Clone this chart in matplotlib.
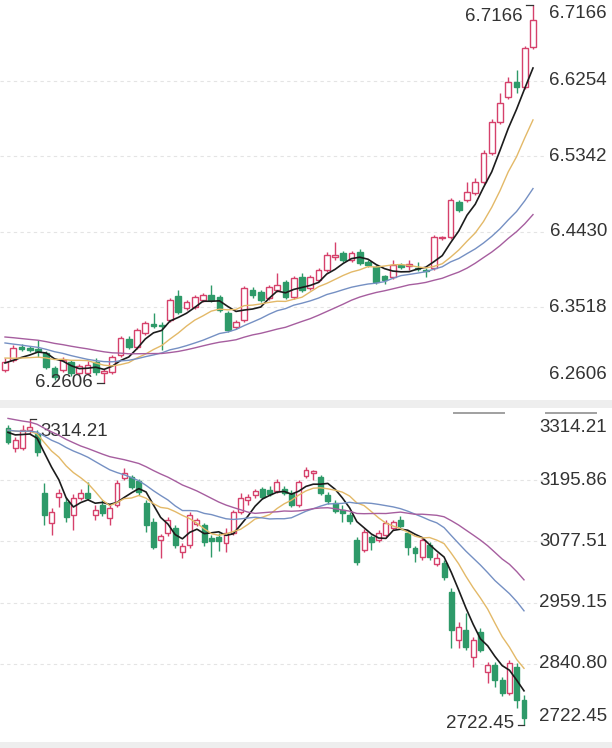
import numpy as np
import pandas as pd
import matplotlib
matplotlib.use("Agg")
from matplotlib import pyplot as plt
from matplotlib.patches import Rectangle
from matplotlib.lines import Line2D
from matplotlib.transforms import blended_transform_factory

plt.rcParams["font.family"] = ["Liberation Sans", "DejaVu Sans"]

# ---- top panel: exchange rate candles ----
fx_open = [6.2763, 6.2883, 6.3040, 6.3028, 6.3016, 6.2968, 6.2787, 6.2763, 6.2859, 6.2726,
           6.2726, 6.2859, 6.2726, 6.2739, 6.2944, 6.3137, 6.3040, 6.3209, 6.3318, 6.3306,
           6.3366, 6.3655, 6.3511, 6.3523, 6.3607, 6.3667, 6.3643, 6.3450, 6.3281, 6.3366,
           6.3728, 6.3704, 6.3631, 6.3728, 6.3824, 6.3643, 6.3885, 6.3752, 6.3848, 6.3969,
           6.4126, 6.4174, 6.4090, 6.4186, 6.4065, 6.4005, 6.3897, 6.3885, 6.4029, 6.4017,
           6.3993, 6.3969, 6.3993, 6.4355, 6.4367, 6.4789, 6.4813, 6.4898, 6.5031, 6.5380,
           6.5754, 6.6056, 6.6237, 6.6177, 6.6659]
fx_close = [6.2859, 6.3028, 6.3016, 6.3004, 6.2992, 6.2799, 6.2678, 6.2883, 6.2726, 6.2811,
            6.2823, 6.2739, 6.2751, 6.2920, 6.3149, 6.3040, 6.3245, 6.3330, 6.3293, 6.3293,
            6.3607, 6.3462, 6.3583, 6.3643, 6.3667, 6.3607, 6.3486, 6.3245, 6.3342, 6.3752,
            6.3667, 6.3607, 6.3764, 6.3788, 6.3643, 6.3872, 6.3728, 6.3885, 6.3969, 6.4150,
            6.4150, 6.4090, 6.4174, 6.4053, 6.4029, 6.3824, 6.3848, 6.4029, 6.4005, 6.4041,
            6.3981, 6.3957, 6.4367, 6.4367, 6.4813, 6.4693, 6.4910, 6.5031, 6.5380, 6.5754,
            6.5984, 6.6237, 6.6177, 6.6647, 6.6985]
fx_high = [6.2907, 6.3064, 6.3076, 6.3052, 6.3125, 6.2992, 6.2811, 6.2920, 6.2883, 6.2835,
           6.2871, 6.2907, 6.2775, 6.2944, 6.3173, 6.3173, 6.3269, 6.3354, 6.3450, 6.3342,
           6.3631, 6.3728, 6.3607, 6.3667, 6.3692, 6.3788, 6.3667, 6.3474, 6.3366, 6.3776,
           6.3764, 6.3728, 6.3788, 6.3933, 6.3848, 6.3897, 6.3933, 6.3909, 6.3993, 6.4186,
           6.4307, 6.4198, 6.4198, 6.4222, 6.4090, 6.4029, 6.3909, 6.4090, 6.4053, 6.4090,
           6.4065, 6.3993, 6.4391, 6.4379, 6.4838, 6.4813, 6.5031, 6.5079, 6.5417, 6.5791,
           6.6104, 6.6297, 6.6382, 6.6671, 6.7166]
fx_low = [6.2739, 6.2859, 6.2992, 6.2980, 6.2920, 6.2775, 6.2642, 6.2739, 6.2690, 6.2702,
          6.2702, 6.2702, 6.2606, 6.2714, 6.2920, 6.3016, 6.3016, 6.3185, 6.3269, 6.3004,
          6.3342, 6.3438, 6.3486, 6.3499, 6.3583, 6.3583, 6.3462, 6.3221, 6.3257, 6.3342,
          6.3631, 6.3583, 6.3607, 6.3704, 6.3619, 6.3619, 6.3704, 6.3728, 6.3824, 6.3945,
          6.4090, 6.4065, 6.4065, 6.4029, 6.4005, 6.3800, 6.3800, 6.3860, 6.3981, 6.3969,
          6.3957, 6.3885, 6.3969, 6.4331, 6.4343, 6.4669, 6.4789, 6.4874, 6.5006, 6.5356,
          6.5730, 6.6032, 6.6104, 6.6152, 6.6635]
# closes before the visible window, only used to warm up the moving averages
fx_prior = [6.3290, 6.3330, 6.3310, 6.3280, 6.3320, 6.3300, 6.3340, 6.3290, 6.3310, 6.3280,
            6.3300, 6.3260, 6.3290, 6.3250, 6.3280, 6.3240, 6.3290, 6.3260, 6.3270, 6.3270,
            6.3050, 6.2990, 6.2960, 6.2930, 6.2900,
            6.2870, 6.2840, 6.2860, 6.2810]

# ---- bottom panel: index candles ----
idx_open = [3296.81, 3258.13, 3258.13, 3292.94, 3285.20, 3171.10, 3113.08, 3163.36, 3153.69, 3128.55,
            3161.43, 3171.10, 3128.55, 3147.89, 3122.75, 3147.89, 3200.11, 3202.04, 3194.31, 3151.76,
            3115.01, 3080.20, 3093.74, 3103.41, 3056.99, 3070.53, 3111.14, 3109.21, 3084.07, 3086.00,
            3074.40, 3093.74, 3134.35, 3157.56, 3167.23, 3178.83, 3176.90, 3174.97, 3178.83, 3171.10,
            3147.89, 3203.98, 3209.78, 3202.04, 3167.23, 3151.76, 3138.22, 3128.55, 3080.20, 3060.86,
            3086.00, 3080.20, 3089.87, 3103.41, 3118.88, 3093.74, 3064.73, 3047.32, 3070.53, 3033.78,
            3035.72, 2979.63, 2886.80, 2906.14, 2853.92, 2902.27, 2824.91, 2838.45, 2809.44, 2784.30,
            2834.58, 2770.76]
idx_close = [3269.73, 3273.60, 3292.94, 3298.74, 3250.39, 3128.55, 3134.35, 3171.10, 3124.68, 3161.43,
             3171.10, 3161.43, 3138.22, 3132.42, 3142.09, 3190.44, 3209.78, 3182.70, 3173.03, 3109.21,
             3066.66, 3087.94, 3118.88, 3070.53, 3068.60, 3128.55, 3118.88, 3076.33, 3078.27, 3078.27,
             3093.74, 3134.35, 3161.43, 3163.36, 3174.97, 3163.36, 3169.16, 3192.37, 3171.10, 3147.89,
             3192.37, 3215.58, 3213.65, 3171.10, 3155.63, 3136.29, 3132.42, 3116.95, 3037.65, 3095.67,
             3076.33, 3093.74, 3113.08, 3115.01, 3107.28, 3066.66, 3055.06, 3080.20, 3047.32, 3045.39,
             3008.64, 2906.14, 2911.94, 2873.26, 2886.80, 2867.46, 2838.45, 2809.44, 2784.30, 2842.32,
             2770.76, 2735.95]
idx_high = [3302.61, 3279.40, 3302.61, 3314.21, 3292.94, 3190.44, 3142.09, 3178.83, 3163.36, 3169.16,
            3178.83, 3192.37, 3147.89, 3157.56, 3147.89, 3196.24, 3219.45, 3205.91, 3198.17, 3157.56,
            3122.75, 3091.80, 3124.68, 3109.21, 3074.40, 3134.35, 3122.75, 3113.08, 3089.87, 3093.74,
            3103.41, 3138.22, 3171.10, 3169.16, 3178.83, 3182.70, 3184.64, 3198.17, 3184.64, 3176.90,
            3196.24, 3221.38, 3215.58, 3205.91, 3173.03, 3157.56, 3147.89, 3134.35, 3086.00, 3101.47,
            3089.87, 3099.54, 3118.88, 3118.88, 3126.62, 3099.54, 3068.60, 3086.00, 3076.33, 3055.06,
            3041.52, 2987.37, 2921.61, 2939.02, 2892.60, 2910.01, 2844.25, 2844.25, 2815.24, 2848.12,
            2842.32, 2780.43]
idx_low = [3265.86, 3250.39, 3254.26, 3285.20, 3242.66, 3109.21, 3089.87, 3144.02, 3115.01, 3099.54,
           3157.56, 3157.56, 3118.88, 3126.62, 3109.21, 3144.02, 3196.24, 3178.83, 3167.23, 3095.67,
           3062.79, 3045.39, 3087.94, 3064.73, 3045.39, 3064.73, 3107.28, 3068.60, 3047.32, 3058.93,
           3056.99, 3089.87, 3130.48, 3147.89, 3161.43, 3159.49, 3165.30, 3171.10, 3167.23, 3144.02,
           3144.02, 3200.11, 3196.24, 3167.23, 3149.82, 3132.42, 3115.01, 3111.14, 3031.85, 3056.99,
           3060.86, 3076.33, 3086.00, 3099.54, 3103.41, 3051.19, 3037.65, 3041.52, 3041.52, 3029.92,
           3002.84, 2871.33, 2871.33, 2867.46, 2834.58, 2863.59, 2803.64, 2795.90, 2778.50, 2780.43,
           2755.29, 2722.45]
idx_prior = [3352, 3368, 3361, 3375, 3358, 3349, 3366, 3362, 3355, 3360,
             3310, 3301, 3295, 3288, 3280, 3297, 3290, 3285, 3298, 3285,
             3290, 3302, 3295, 3300, 3297,
             3298, 3289, 3294, 3291]

MA_WINDOWS = [5, 10, 20, 30]
MA_COLORS = ["#1c1c1c", "#e3b968", "#7590c3", "#a65e9f"]
MA_WIDTHS = [1.2, 1.0, 1.0, 1.0]
UP = "#d6416b"
DOWN = "#2e9a69"
TEXT = "#333333"

W, H = 612, 748
PLOT_RIGHT = 545
LABEL_X = 607


def px_box(left, top, right, bottom):
    return [left / W, 1 - bottom / H, (right - left) / W, (bottom - top) / H]


def moving_averages(prior, close):
    s = pd.Series(list(prior) + list(close))
    n = len(close)
    return [s.rolling(w).mean().to_numpy()[-n:] for w in MA_WINDOWS]


def draw_candles(ax, o, h, l, c, width):
    for i in range(len(o)):
        up = c[i] >= o[i]
        color = UP if up else DOWN
        ax.plot([i, i], [l[i], h[i]], color=color, lw=1.0, zorder=2,
                solid_capstyle="butt")
        b0, b1 = min(o[i], c[i]), max(o[i], c[i])
        ax.add_patch(Rectangle((i - width / 2, b0), width, b1 - b0,
                               facecolor="white" if up else color,
                               edgecolor=color, lw=1.0, zorder=3))


def setup_panel(ax, n, lo, hi, box, x_first, x_last, y_hi, y_lo):
    # map the data onto the pixel layout of the reference
    left, top, right, bottom = box
    sp = (x_last - x_first) / (n - 1)
    ax.set_xlim(-(x_first - left) / sp, n - 1 + (right - x_last) / sp)
    pp = (hi - lo) / (y_lo - y_hi)
    ax.set_ylim(lo - (bottom - y_lo) * pp, hi + (y_hi - top) * pp)
    ax.set_axis_off()


def add_labels(fig, ax, lo, hi, fmt):
    levels = np.linspace(lo, hi, 6)
    trans = blended_transform_factory(fig.transFigure, ax.transData)
    for k, v in enumerate(levels):
        if k == 0:
            va = "bottom"
        elif k == len(levels) - 1:
            va = "top"
        else:
            va = "center"
            ax.axhline(v, color="#e4e4e4", lw=0.8, ls=(0, (3, 3)), zorder=0)
        ax.text(LABEL_X / W, v, fmt % v, transform=trans, ha="right", va=va,
                fontsize=13.5, color=TEXT)


def mark(ax, i, v, text, side, dy):
    # short tick from the extreme candle plus its value
    if side == "left":
        ax.plot([i - 0.8, i], [v, v], color=TEXT, lw=0.9, zorder=4)
        ax.annotate(text, xy=(i - 0.8, v), xytext=(-3, dy), textcoords="offset points",
                    ha="right", va="center", fontsize=13.5, color=TEXT)
    else:
        ax.plot([i, i + 0.9], [v, v], color=TEXT, lw=0.9, zorder=4)
        ax.annotate(text, xy=(i + 0.9, v), xytext=(3, dy), textcoords="offset points",
                    ha="left", va="center", fontsize=13.5, color=TEXT)


fig = plt.figure(figsize=(W / 100, H / 100), dpi=100)

# top panel
top_box = (0, 0, PLOT_RIGHT, 398)
ax1 = fig.add_axes(px_box(*top_box))
fx_lo, fx_hi = min(fx_low), max(fx_high)
setup_panel(ax1, len(fx_close), fx_lo, fx_hi, top_box, 5, 533, 5, 383)
add_labels(fig, ax1, fx_lo, fx_hi, "%.4f")
draw_candles(ax1, fx_open, fx_high, fx_low, fx_close, 0.72)
x1 = np.arange(len(fx_close))
for ma, col, lw in zip(moving_averages(fx_prior, fx_close), MA_COLORS, MA_WIDTHS):
    ax1.plot(x1, ma, color=col, lw=lw, zorder=5)
mark(ax1, int(np.argmax(fx_high)), fx_hi, "%.4f" % fx_hi, "left", -8)
mark(ax1, int(np.argmin(fx_low)), fx_lo, "%.4f" % fx_lo, "left", 0)

# bottom panel
bot_box = (0, 408, PLOT_RIGHT, 742)
ax2 = fig.add_axes(px_box(*bot_box))
idx_lo, idx_hi = min(idx_low), max(idx_high)
setup_panel(ax2, len(idx_close), idx_lo, idx_hi, bot_box, 8, 524, 419, 725)
add_labels(fig, ax2, idx_lo, idx_hi, "%.2f")
draw_candles(ax2, idx_open, idx_high, idx_low, idx_close, 0.68)
x2 = np.arange(len(idx_close))
for ma, col, lw in zip(moving_averages(idx_prior, idx_close), MA_COLORS, MA_WIDTHS):
    ax2.plot(x2, ma, color=col, lw=lw, zorder=5)
mark(ax2, int(np.argmax(idx_high)), idx_hi, "%.2f" % idx_hi, "right", -9)
mark(ax2, int(np.argmin(idx_low)), idx_lo, "%.2f" % idx_lo, "left", 1)

# separator bands and the two short grey bars
fig.add_artist(Rectangle((0, 1 - 408 / H), 1, 8 / H, transform=fig.transFigure,
                         facecolor="#eeeeee", edgecolor="none"))
fig.add_artist(Rectangle((0, 0), 1, 6 / H, transform=fig.transFigure,
                         facecolor="#eeeeee", edgecolor="none"))
for a, b in [(454, 504), (546, 596)]:
    fig.add_artist(Line2D([a / W, b / W], [1 - 413 / H] * 2, transform=fig.transFigure,
                          color="#a0a0a0", lw=1.4))

fig.savefig("out.png", dpi=100)
